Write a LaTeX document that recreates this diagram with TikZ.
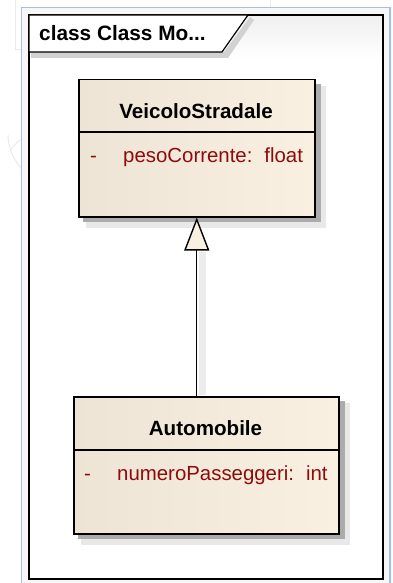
\documentclass[tikz,border=0pt]{standalone}
\usepackage{fontspec}
\setmainfont{Liberation Sans}
\usetikzlibrary{arrows.meta}

\definecolor{classfill}{HTML}{FAF0E2}
\definecolor{classfillL}{HTML}{EEE4D5}
\definecolor{attrred}{HTML}{8E0B0B}
\definecolor{frameblue}{HTML}{A7BEE6}
\definecolor{shadowgray}{HTML}{ABABAB}

\tikzset{
  classbox/.style={draw=black, line width=1.5pt, left color=classfillL, right color=classfill,
    shading angle=90, inner sep=0pt, anchor=north west},
  titletext/.style={inner sep=0pt, anchor=base, font=\fontsize{20.6}{24}\selectfont\bfseries},
  attrtext/.style={text=attrred, inner sep=0pt, anchor=base west, font=\fontsize{20.4}{24}\selectfont},
  softshadow/.style={fill=shadowgray, draw=none},
  genline/.style={line width=1.4pt, -{Triangle[width=25pt, length=33pt, fill=classfill, line width=1.4pt]}},
  watermark/.style={draw=gray!16, line width=1pt},
}

\begin{document}
\begin{tikzpicture}[x=1pt, y=-1pt]
  \useasboundingbox (0,0) rectangle (392,583);
  \fill[white] (0,0) rectangle (392,583);

  % faint background artwork
  \draw[watermark] (15,0) -- (15,50) -- (65,50);
  \draw[watermark] (10,150) arc[start angle=200, end angle=330, x radius=130, y radius=60];
  \draw[watermark] (8,135) arc[start angle=180, end angle=100, x radius=110, y radius=70];
  \draw[watermark] (270,0) -- (270,20);

  % diagram frame
  \fill[gray!6] (21.5,7.5) rectangle (392,583);
  \draw[frameblue, line width=1.6pt] (21.5,590) -- (21.5,7.5) -- (390,7.5) -- (390,590);
  \fill[white] (29,15) rectangle (383,579);
  \shade[top color=gray!12, bottom color=white] (29,15) rectangle (383,60);
  \draw[black, line width=1.2pt] (29,15) rectangle (383,579);

  % frame label tab with its shadow
  \fill[gray!35] (31,52) -- (224,52) -- (250,17) -- (254,20) -- (228,58) -- (31,58) -- cycle;
  \draw[black, line width=1.2pt, fill=white] (29,15) -- (248,15) -- (222,52) -- (29,52) -- cycle;
  \node[anchor=base west, inner sep=0pt, font=\fontsize{20.8}{24}\selectfont\bfseries] (tab) at (39,41) {class Class Mo...};

  % class shadows
  \fill[gray!18] (86,86) rectangle (326,228);
  \fill[softshadow] (83,84) rectangle (321,222);
  \fill[gray!18] (81,403) rectangle (350,545);
  \fill[softshadow] (78,401) rectangle (345,539);

  % VeicoloStradale
  \node[classbox, minimum width=236pt, minimum height=137pt] (veicolo) at (78,79) {};
  \coordinate (veicoloL) at (78,132);
  \coordinate (veicoloR) at (314,132);
  \draw[line width=1.4pt] (veicoloL) -- (veicoloR);
  \node[titletext] (veicoloT) at (196,118) {VeicoloStradale};
  \node[attrtext] (veicoloV) at (90,162) {-};
  \node[attrtext] (veicoloA) at (123,162) {pesoCorrente:\hspace{12pt}float};

  % Automobile
  \node[classbox, minimum width=265pt, minimum height=137pt] (auto) at (73,396) {};
  \coordinate (autoL) at (73,450);
  \coordinate (autoR) at (338,450);
  \draw[line width=1.4pt] (autoL) -- (autoR);
  \node[titletext] (autoT) at (205.5,435) {Automobile};
  \node[attrtext] (autoV) at (84,480) {-};
  \node[attrtext] (autoA) at (117,480) {numeroPasseggeri:\hspace{12pt}int};

  % generalization
  \fill[gray!15] (199,252) rectangle (206,395);
  \draw[genline] (auto.north -| veicolo.south) -- (veicolo.south);
\end{tikzpicture}
\end{document}
